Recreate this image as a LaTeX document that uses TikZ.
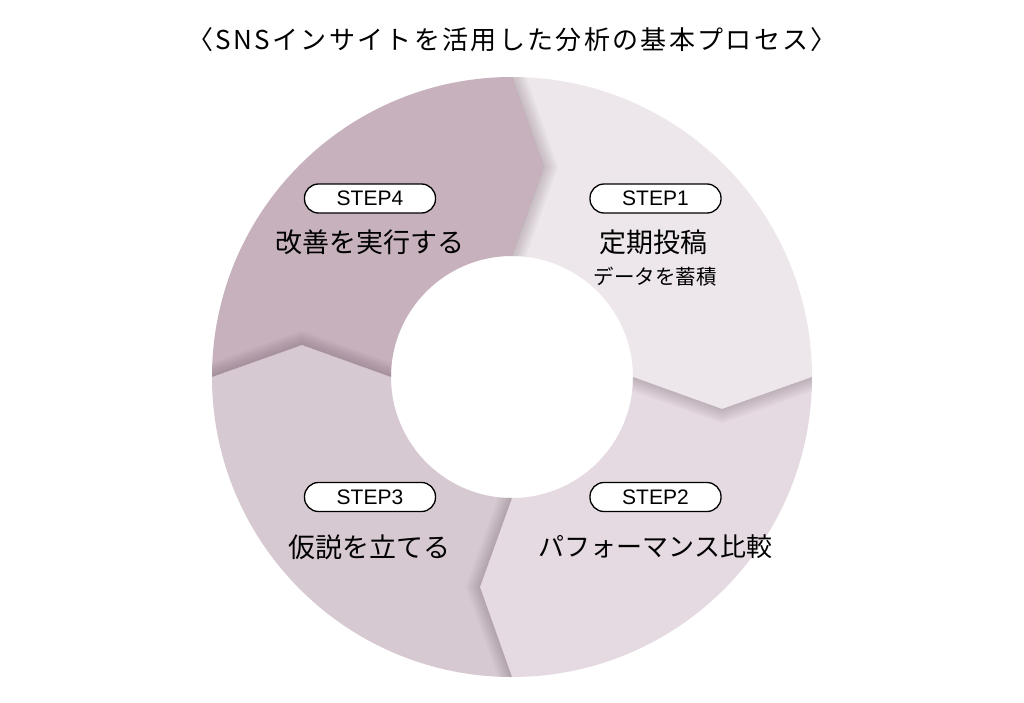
\documentclass[tikz,border=0pt]{standalone}
\usepackage{fontspec}
\setmainfont{Noto Sans CJK JP}
\newfontfamily\jpfont{Noto Sans CJK JP}
\newfontfamily\titlefont[LetterSpace=9]{Noto Sans CJK JP}
\newfontfamily\stepfont{Liberation Sans}
\definecolor{cA}{HTML}{EDE7EB}
\definecolor{cB}{HTML}{E5DAE1}
\definecolor{cC}{HTML}{D7C9D1}
\definecolor{cD}{HTML}{C6B1BD}
\definecolor{shd}{HTML}{3A2030}
\tikzset{
  pill/.style={draw=black, line width=1.3pt, fill=white, rounded corners=14pt,
    minimum width=131pt, minimum height=29pt, inner sep=0pt,
    font=\stepfont\fontsize{21}{24}\selectfont},
  mainlbl/.style={inner sep=0pt, font=\jpfont\fontsize{27}{30}\selectfont},
  sublbl/.style={inner sep=0pt, font=\jpfont\fontsize{20.5}{24}\selectfont}
}
\newcommand{\segshape}{(0,300) arc[start angle=90, end angle=0, radius=300] -- (210,-32) -- (121,0) arc[start angle=0, end angle=90, radius=121] -- (32,210) -- cycle}
\newcommand{\tipline}{(0,300) -- (32,210) -- (0,121)}
\begin{document}
\begin{tikzpicture}[x=1pt,y=1pt]
\useasboundingbox[fill=white] (-512,-325) rectangle (512,377);
% segments
\fill[cA] \segshape;
\fill[cB, rotate=-90] \segshape;
\fill[cC, rotate=-180] \segshape;
\fill[cD, rotate=-270] \segshape;
% shadows: each segment's notch receives shadow
\foreach \rot in {0,-90,-180,-270}{
  \begin{scope}[rotate=\rot]
    \clip \segshape;
    \foreach \w in {1,...,9}{
      \draw[shd, opacity=0.025, line width=3*\w pt, line join=miter] \tipline;
    }
  \end{scope}
}
% title
\node[inner sep=0pt, font=\titlefont\fontsize{26}{30}\selectfont] (title) at (0,337) {〈SNSインサイトを活用した分析の基本プロセス〉};
% step 1
\node[pill] (p1) at (143.5,178.5) {STEP1};
\node[mainlbl] (m1) at (141.5,135) {定期投稿};
\node[sublbl] (s1) at (143,100) {データを蓄積};
% step 4
\node[pill] (p4) at (-142,178.5) {STEP4};
\node[mainlbl] (m4) at (-142,135) {改善を実行する};
% step 3
\node[pill] (p3) at (-142,-120) {STEP3};
\node[mainlbl] (m3) at (-142,-170) {仮説を立てる};
% step 2
\node[pill] (p2) at (143.5,-120) {STEP2};
\node[mainlbl, font=\jpfont\fontsize{26}{30}\selectfont] (m2) at (143.5,-170) {パフォーマンス比較};
\end{tikzpicture}
\end{document}
